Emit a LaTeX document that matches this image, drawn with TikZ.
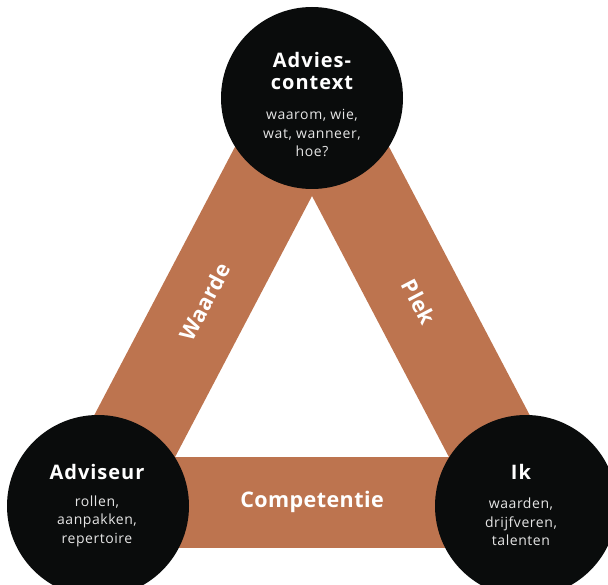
\documentclass[tikz,border=0pt]{standalone}
\usepackage{fontspec}
\setmainfont{Open Sans}
\usetikzlibrary{backgrounds}

\definecolor{bandorange}{RGB}{189,116,79}
\definecolor{hubblack}{RGB}{10,12,12}

\begin{document}
\begin{tikzpicture}[x=1pt,y=-1pt,
    hub/.style={circle,fill=hubblack,minimum size=182pt,inner sep=0pt},
    hubtitle/.style={text=white,align=center,font=\fontsize{20}{22}\selectfont\bfseries\addfontfeatures{LetterSpace=5}},
    hubsub/.style={text=white!90!black,align=center,font=\fontsize{14}{18.5}\selectfont\addfontfeatures{LetterSpace=4}},
    band/.style={draw=bandorange,line width=91pt},
    bandlabel/.style={text=white,font=\fontsize{21.5}{24}\selectfont\bfseries\addfontfeatures{LetterSpace=2}}]

    \clip (0,0) rectangle (608,585);

    % hubs
    \node at (312,98) [hub] (ctx) {};
    \node at (98,506) [hub] (adv) {};
    \node at (526,506) [hub] (ik) {};

    \node at (312,71) [hubtitle] (ctxtitle) {Advies-\\context};
    \node at (312,133) [hubsub] (ctxsub) {waarom, wie,\\wat, wanneer,\\hoe?};

    \node at (97,472) [hubtitle] (advtitle) {Adviseur};
    \node at (97,521) [hubsub] (advsub) {rollen,\\aanpakken,\\repertoire};

    \node at (521,472) [hubtitle] (iktitle) {Ik};
    \node at (521,522) [hubsub] (iksub) {waarden,\\drijfveren,\\talenten};

    % bands
    \begin{scope}[on background layer]
      \draw[band] (ctx.center) -- (adv.center)
        node[midway,sloped,bandlabel] (waarde) {Waarde};
      \draw[band] (ctx.center) -- (ik.center)
        node[midway,sloped,bandlabel] (plek) {Plek};
      \draw[band] ([yshift=4pt]adv.center) -- ([yshift=4pt]ik.center)
        node[midway,bandlabel] (comp) {Competentie};
    \end{scope}
  \end{tikzpicture}
\end{document}
